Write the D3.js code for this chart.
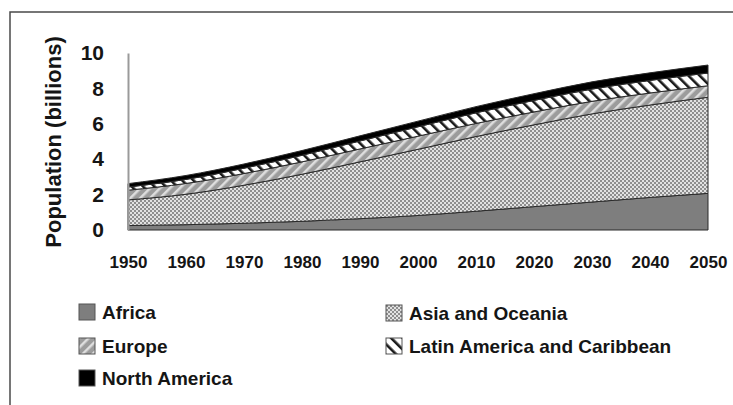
<!DOCTYPE html>
<html>
<head>
<meta charset="utf-8">
<script src="https://cdn.jsdelivr.net/npm/d3@7"></script>
<style>
  html, body { margin: 0; padding: 0; background: #fff; }
  svg { display: block; }
  text { font-family: "Liberation Sans", Arial, sans-serif; font-weight: bold; fill: #151515; }
</style>
</head>
<body>
<svg id="chart" width="733" height="405"></svg>
<script>
// World population by region, billions (estimates and projections)
const years = [1950, 1960, 1970, 1980, 1990, 2000, 2010, 2020, 2030, 2040, 2050];
const africa       = [0.25, 0.30, 0.38, 0.49, 0.64, 0.82, 1.06, 1.32, 1.58, 1.84, 2.07];
const asiaOceania  = [1.45, 1.72, 2.15, 2.66, 3.21, 3.74, 4.22, 4.62, 4.98, 5.22, 5.43];
const europe       = [0.55, 0.61, 0.66, 0.70, 0.73, 0.74, 0.74, 0.73, 0.71, 0.68, 0.65];
const latinAmerica = [0.18, 0.23, 0.30, 0.37, 0.45, 0.53, 0.60, 0.65, 0.69, 0.71, 0.72];
const northAmerica = [0.19, 0.22, 0.24, 0.27, 0.29, 0.32, 0.35, 0.38, 0.41, 0.43, 0.45];

const seriesNames = ["Africa", "Asia and Oceania", "Europe", "Latin America and Caribbean", "North America"];
const seriesValues = [africa, asiaOceania, europe, latinAmerica, northAmerica];
const yTicks = [0, 2, 4, 6, 8, 10];
const xTicks = [1950, 1960, 1970, 1980, 1990, 2000, 2010, 2020, 2030, 2040, 2050];
const yTitle = "Population (billions)";

const svg = d3.select("#chart");

// fills
const defs = svg.append("defs");
const checker = defs.append("pattern").attr("id", "fill-checker")
  .attr("patternUnits", "userSpaceOnUse").attr("width", 4).attr("height", 4);
checker.append("rect").attr("width", 4).attr("height", 4).attr("fill", "#e2e2e2");
checker.append("rect").attr("width", 2).attr("height", 2).attr("fill", "#8e8e8e");
checker.append("rect").attr("x", 2).attr("y", 2).attr("width", 2).attr("height", 2).attr("fill", "#8e8e8e");

const hatchEu = defs.append("pattern").attr("id", "fill-europe")
  .attr("patternUnits", "userSpaceOnUse").attr("width", 7).attr("height", 7)
  .attr("patternTransform", "rotate(45)");
hatchEu.append("rect").attr("width", 7).attr("height", 7).attr("fill", "#9c9c9c");
hatchEu.append("rect").attr("width", 2.5).attr("height", 7).attr("fill", "#dedede");

const hatchLa = defs.append("pattern").attr("id", "fill-latin")
  .attr("patternUnits", "userSpaceOnUse").attr("width", 8).attr("height", 8)
  .attr("patternTransform", "rotate(-45)");
hatchLa.append("rect").attr("width", 8).attr("height", 8).attr("fill", "#ffffff");
hatchLa.append("rect").attr("width", 2.6).attr("height", 8).attr("fill", "#1a1a1a");

const fills = ["#7e7e7e", "url(#fill-checker)", "url(#fill-europe)", "url(#fill-latin)", "#000000"];

// frame lines
svg.append("path").attr("d", "M10,405 L10,12 L733,12")
  .attr("fill", "none").attr("stroke", "#4a4a4a").attr("stroke-width", 1.5);

const x = d3.scaleLinear().domain([1950, 2050]).range([128, 708]);
const y = d3.scaleLinear().domain([0, 10]).range([230, 53]);

// stacked areas
const table = years.map((yr, i) => {
  const row = { year: yr };
  seriesNames.forEach((n, k) => { row[n] = seriesValues[k][i]; });
  return row;
});
const stacked = d3.stack().keys(seriesNames)(table);
const area = d3.area()
  .x(d => x(d.data.year))
  .y0(d => y(d[0]))
  .y1(d => y(d[1]))
  .curve(d3.curveMonotoneX);

svg.append("g").selectAll("path").data(stacked).join("path")
  .attr("d", area)
  .attr("fill", (d, i) => fills[i])
  .attr("stroke", "#2a2a2a")
  .attr("stroke-width", 1)
  .attr("stroke-linejoin", "round");

// y axis
const yAxis = svg.append("g").attr("transform", "translate(128,0)")
  .call(d3.axisLeft(y).tickValues(yTicks).tickSize(0).tickPadding(24).tickFormat(d3.format("d")));
yAxis.select(".domain").attr("stroke", "#9a9a9a").attr("stroke-width", 2);
yAxis.selectAll("text").attr("font-size", 21).attr("font-family", null).attr("fill", "#151515");

// x axis labels
const xAxis = svg.append("g").attr("transform", "translate(0,230)")
  .call(d3.axisBottom(x).tickValues(xTicks).tickSize(0).tickPadding(26).tickFormat(d3.format("d")));
xAxis.select(".domain").remove();
xAxis.selectAll("text").attr("font-size", 17).attr("font-family", null).attr("fill", "#151515");

// y title
svg.append("text")
  .attr("transform", "translate(61,142) rotate(-90)")
  .attr("text-anchor", "middle")
  .attr("font-size", 22)
  .text(yTitle);

// legend
const legendPos = [
  { x: 79, y: 312 },   // Africa
  { x: 386, y: 313 },  // Asia and Oceania
  { x: 79, y: 346 },   // Europe
  { x: 386, y: 346 },  // Latin America and Caribbean
  { x: 79, y: 378 }    // North America
];
const legend = svg.append("g").selectAll("g").data(seriesNames).join("g")
  .attr("transform", (d, i) => `translate(${legendPos[i].x},${legendPos[i].y})`);
legend.append("rect")
  .attr("x", 0).attr("y", -8).attr("width", 16).attr("height", 16)
  .attr("fill", (d, i) => fills[i])
  .attr("stroke", "#555").attr("stroke-width", 1);
legend.append("text")
  .attr("x", 23).attr("y", 7)
  .attr("font-size", 19)
  .text(d => d);
</script>
</body>
</html>
